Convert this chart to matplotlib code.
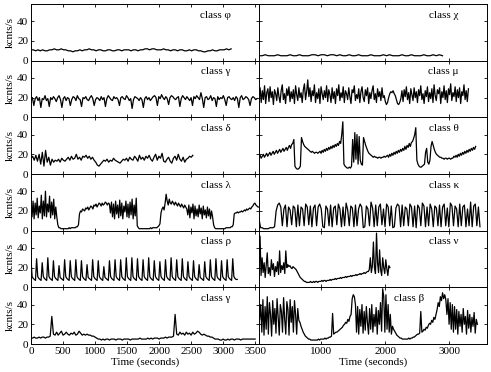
import numpy as np
import matplotlib.pyplot as plt

plt.rcParams['font.family'] = ['Liberation Serif', 'DejaVu Serif']

phi_t = (0, 3125)
phi = [11, 11, 10, 11, 10, 11, 10, 10, 11, 11, 12, 11, 11, 12, 11, 11, 10, 10, 9, 10,
       10, 11, 10, 11, 11, 12, 11, 11, 10, 11, 11, 10, 10, 11, 11, 10, 10, 11, 11, 10,
       11, 11, 11, 10, 11, 11, 10, 11, 11, 12, 12, 11, 12, 12, 11, 11, 11, 12, 11, 11,
       10, 11, 11, 10, 11, 11, 10, 10, 11, 10, 11, 11, 10, 10, 9, 9, 10, 10, 11, 10,
       10, 11, 11, 11, 12, 11, 12]

gamma1_t = (0, 3530)
gamma1 = [18, 20, 12, 19, 21, 17, 20, 10, 19, 18, 22, 17, 19, 11, 20, 18, 21, 19, 16, 20,
          22, 18, 10, 19, 21, 17, 20, 19, 12, 18, 21, 20, 17, 22, 19, 18, 11, 20, 19, 21,
          18, 17, 20, 22, 19, 12, 18, 20, 19, 17, 21, 18, 20, 11, 19, 22, 20, 18, 17, 21,
          19, 20, 18, 12, 20, 21, 19, 18, 22, 20, 17, 19, 9, 18, 21, 20, 19, 17, 20, 18,
          10, 19, 21, 18, 20, 17, 19, 21, 22, 20, 12, 21, 19, 23, 20, 18, 21, 19, 13, 20,
          22, 21, 19, 18, 20, 21, 11, 19, 22, 20, 18, 21, 19, 17, 20, 12, 21, 19, 22, 20,
          18, 25, 19, 10, 20, 21, 18, 19, 22, 17, 20, 19, 11, 21, 18, 20, 19, 22, 18, 12,
          20, 21, 19, 18, 20, 17, 21, 19, 10, 20, 22, 18, 19, 21, 20, 18, 12, 19, 21, 20,
          18, 19]

delta_t = (0, 2527)
delta = [16, 18, 14, 19, 13, 20, 10, 22, 8, 24, 12, 17, 9, 15, 12, 14, 13, 15, 12, 16,
         14, 13, 15, 17, 14, 18, 15, 16, 20, 15, 17, 14, 18, 17, 19, 16, 18, 15, 17, 14,
         12, 9, 8, 10, 12, 14, 13, 15, 12, 14, 13, 16, 14, 13, 12, 11, 13, 15, 14, 16,
         13, 17, 15, 14, 18, 16, 13, 19, 15, 17, 14, 18, 16, 19, 15, 13, 17, 20, 14, 18,
         16, 21, 13, 12, 15, 17, 13, 11, 16, 18, 14, 20, 15, 13, 17, 12, 15, 16, 18, 17, 19]

lam_t = (0, 3560)
lam = [22, 14, 30, 12, 28, 16, 33, 13, 25, 18, 36, 12, 30, 15, 40, 14, 27, 19, 35, 13,
       29, 16, 32, 12, 24, 14,
       6, 3, 3, 2, 2, 2, 2, 2, 2, 2, 2, 3, 2, 3, 3, 3, 3, 3, 4, 4, 6,
       17, 20, 19, 22, 21, 20, 23, 22, 24, 21, 23, 25, 24, 22, 26, 25, 27, 24, 26, 28,
       27, 25, 28, 26, 27, 29, 28, 26, 28, 27,
       18, 29, 14, 27, 12, 30, 17, 26, 13, 31, 15, 28, 12, 25, 19, 30, 14, 27, 13, 29,
       16, 32, 12, 26, 15, 33,
       5, 3, 2, 2, 2, 2, 2, 2, 2, 2, 2, 2, 2, 3, 2, 3, 3, 3, 3, 3, 4, 5, 7,
       18, 22, 24, 21, 28, 37, 30, 26, 32, 28, 27, 30, 28, 26, 29, 27, 25, 28, 26, 24,
       27, 25, 23, 26, 24, 22,
       16, 26, 13, 24, 18, 27, 12, 25, 15, 22, 14, 26, 17, 23, 12, 25, 16, 21, 13, 24,
       15, 22, 12, 20, 14,
       6, 3, 2, 2, 2, 2, 2, 2, 2, 2, 2, 2, 3, 3, 3, 3, 3, 4, 4, 6,
       17, 18, 18, 19, 18, 19, 19, 20, 19, 20, 21, 20, 22, 21, 22, 23, 22, 24, 25, 27,
       28, 26, 25, 24, 24]

rho_t = (0, 3220)
rho = [28, 11, 9, 8, 7, 29, 11, 9, 8, 7, 25, 11, 9, 8, 7, 30, 11, 9, 8, 7,
       27, 11, 9, 8, 7, 22, 10, 9, 8, 7, 28, 11, 9, 8, 7, 27, 11, 9, 8, 7,
       28, 11, 9, 8, 7, 27, 11, 9, 8, 7, 23, 10, 9, 8, 7, 28, 11, 9, 8, 7,
       27, 11, 9, 8, 7, 21, 10, 9, 8, 7, 27, 11, 9, 8, 7, 28, 11, 9, 8, 7,
       28, 11, 9, 8, 7, 30, 11, 9, 8, 7, 30, 11, 9, 8, 7, 29, 11, 9, 8, 7,
       28, 11, 9, 8, 7, 30, 11, 9, 8, 7, 27, 11, 9, 8, 7, 26, 11, 9, 8, 7,
       28, 11, 9, 8, 7, 30, 11, 9, 8, 7, 28, 11, 9, 8, 7, 29, 11, 9, 8, 7,
       26, 11, 9, 8, 7, 27, 11, 9, 8, 7, 23, 10, 9, 8, 7, 26, 11, 9, 8, 7,
       28, 11, 9, 8, 7, 29, 11, 9, 8, 7, 27, 11, 9, 8, 7, 28, 11, 9, 8, 7,
       29, 11, 9, 8, 8]

gamma2_t = (0, 3500)
gamma2 = [6, 6, 7, 6, 6, 7, 6, 7, 7, 6, 7, 7, 8,
          28,
          10, 9, 12, 9, 11, 13, 9, 10, 12, 10, 9, 11, 10, 12, 9, 10, 13, 11, 9, 10, 9, 10, 9,
          9, 8, 8, 7, 6,
          5, 5, 4, 5, 4, 5, 5, 4, 5, 5, 5, 4, 5, 5, 5, 4, 5, 5, 5, 5, 4, 5, 5, 5,
          5, 5, 6, 5, 5, 5, 5, 6, 5, 6, 5, 6, 6, 6, 5, 6, 6, 6, 7, 6, 7, 7, 7, 8,
          30,
          10, 9, 12, 10, 11, 9, 12, 10, 11, 9, 12, 10, 11, 13, 12, 10, 9, 10,
          9, 8, 8, 7, 7, 6, 5, 5,
          5, 4, 4, 5, 4, 4, 5, 4, 5, 5, 4, 5, 5, 5, 4, 5, 5, 5, 5, 5, 5, 5, 5, 5]

chi_t = (30, 2895)
chi = [5, 5, 6, 5, 5, 5, 6, 5, 5, 5, 6, 5, 5, 6, 5, 5, 5, 6, 6, 5,
       6, 6, 5, 6, 6, 5, 6, 5, 5, 6, 5, 5, 6, 5, 5, 5, 6, 5, 5, 5,
       6, 5, 6, 5, 5, 5, 6, 5, 5, 6, 5, 5, 5, 6, 5, 5, 6, 5, 6, 5]

mu_t = (30, 3300)
mu = [22, 30, 15, 27, 18, 32, 14, 25, 29, 16, 31, 20, 26, 13, 28, 24, 17, 30, 21, 15,
      27, 33, 18, 24, 14, 29, 22, 31, 16, 26, 19, 28, 14, 32, 23, 17, 30, 20, 25, 15,
      28, 34, 18, 26, 38, 21, 30, 16, 27, 22, 33, 15, 25, 19, 29, 14, 31, 24, 18, 27,
      20, 32, 16, 28, 23, 15, 30, 19, 26, 14, 29, 22, 33, 17, 25, 20, 31, 15, 27, 24,
      18, 30, 21, 14, 28, 25, 32, 17, 23, 19, 29, 15, 26, 31, 20, 16, 28, 22, 30, 14,
      25, 19, 27, 32, 18, 24, 15, 29, 21, 26, 17, 30, 20, 22, 16, 13, 15, 20, 24, 26,
      25, 27, 24, 22, 18, 14, 13, 15, 19, 27, 16, 28, 21, 31, 18, 25, 14, 29, 23, 17,
      30, 20, 26, 15, 28, 22, 32, 18, 24, 14, 27, 21, 31, 16, 25, 19, 29, 15, 33, 22,
      17, 28, 24, 30, 14, 26, 20, 32, 18, 27, 15, 29, 23, 34, 17, 25, 21, 31, 16, 28,
      20, 30, 14, 26, 22, 33, 18, 27, 16, 29]

theta_t = (30, 3413)
theta = [17, 19, 16, 18, 20, 17, 19, 21, 18, 20, 22, 19, 21, 23, 20, 22, 24, 21, 23, 25,
         22, 24, 26, 23, 25, 27, 24, 27, 29, 26, 30, 31,
         35, 8, 6, 5, 5, 6, 8, 37, 33, 30, 28, 27, 26, 25,
         24, 23, 22, 23, 22, 21, 22, 22, 21,
         22, 23, 21, 24, 22, 25, 23, 26, 24, 27, 25, 28, 26, 29, 27, 30, 28, 31, 29, 33, 31,
         40, 53, 10, 8, 7, 6, 6, 7, 6, 8,
         35, 12, 42, 15, 40, 10, 38, 14, 10, 9, 37,
         33, 29, 26, 23, 21, 20, 19,
         18, 17, 18, 17, 17, 16, 17, 17, 16, 17, 17, 18, 17,
         18, 19, 17, 20, 18, 21, 19, 22, 20, 23, 21, 24, 22, 25, 23, 26, 24, 28, 25, 29,
         27, 31, 28, 32, 33,
         36, 40, 47, 14, 10, 8, 7, 7, 8, 9,
         10, 22, 26, 12, 10, 14, 28, 33,
         29, 25, 22, 20, 19, 18, 17,
         17, 16, 16, 15, 16, 16, 15, 16, 16, 15, 16,
         16, 18, 17, 19, 17, 20, 18, 21, 19, 22, 20, 23, 21, 24, 22, 25, 23, 26, 24, 27,
         25, 28]

kappa_t = (30, 3480)
kappa = [12, 3, 3, 2, 2, 2, 2, 3, 3, 3, 4,
         20, 26, 28, 24, 5,
         22, 26, 4, 24, 21, 6, 25, 23, 4, 26, 5, 24, 22, 5, 27, 24, 6, 25, 4, 23, 26, 5,
         24, 27, 22, 4, 3, 25, 22, 5, 26, 4, 23, 25, 6, 27, 22, 4, 24, 5, 28, 21, 5,
         25, 23, 4, 26, 5,
         22, 27, 24, 3, 4, 25, 22, 5, 29, 23, 4, 26, 5, 24, 27, 6, 22, 4, 27, 24, 5,
         25, 3, 4,
         23, 27, 25, 4, 26, 5, 24, 22, 5, 27, 24, 4, 25, 3, 26, 23, 5, 28, 25, 4, 24, 5,
         27, 22, 4,
         25, 23, 5, 26, 4, 24, 27, 5, 23, 4, 28, 25, 5, 25, 22, 4, 27, 5, 24, 26, 4,
         22, 5, 29, 4, 25, 27, 5, 24, 4]

nu_t = (30, 2074)
nu = [20, 52, 12, 30, 15, 25, 10, 22, 35, 14, 20, 12, 28, 18, 24, 11, 21, 16, 26, 13,
      37, 15, 22, 18, 25, 14, 37, 20, 23, 21, 22, 20, 19, 21, 20,
      19, 18, 16, 14, 12, 10, 9, 8, 7, 6,
      6, 5, 5, 5, 5, 6, 5, 5, 6, 5, 6, 6, 5, 6, 6, 6, 7, 6, 7, 7, 6, 7, 7,
      7, 8, 7, 8, 8, 8, 9, 8, 9, 9, 9, 10, 9, 10, 10, 10, 11, 10, 11, 11, 11, 12, 11,
      12, 12, 12, 13, 12, 13, 13, 14, 13, 14, 14, 15, 14, 15, 16, 16,
      18, 30, 15, 22, 46, 20, 14, 55, 25, 15, 38, 18, 12, 30, 20, 14, 28, 19, 12, 22, 20]

beta_t = (40, 3440)
beta = [25, 40, 12, 45, 9, 38, 15, 48, 10, 42, 30, 8, 44, 20, 36, 11, 46, 28, 9, 40,
        33, 12, 47, 25, 10, 43, 35, 9, 45, 22, 38, 12, 44, 30, 10, 36, 24,
        22, 18, 15, 12, 10, 8, 7, 6, 5, 5, 4,
        4, 4, 4, 4, 4, 4, 5, 4, 5, 5, 5, 5, 6, 5, 6, 6, 7, 7,
        8, 31, 10,
        11, 12, 12, 13, 14, 15, 16, 17, 19, 20, 22, 21, 25, 23, 28, 30,
        46, 50, 48, 40,
        12, 38, 10, 35, 18, 40, 11, 33, 14, 38, 22, 10, 36, 15, 40, 12, 30, 18, 37, 10,
        34, 20, 42, 13,
        56, 48, 12, 50, 15, 40, 12, 30, 10,
        18, 15, 13, 11, 9, 8, 7, 6, 6, 5, 5, 5,
        5, 5, 5, 6, 5, 6, 6, 7, 7, 8,
        9, 10, 10, 11, 33, 12,
        13, 15, 14, 17, 16, 19, 21, 20, 24, 22, 27, 25, 30,
        35, 42, 38, 48, 44, 52, 46, 50,
        45, 30, 46, 20, 42, 15,
        40, 12, 38, 15, 35, 10, 33, 18, 30, 12, 36, 20, 28, 10, 34, 16, 30, 12, 27, 18,
        32, 11, 25, 20]

left_panels = [('class φ', phi_t, phi), ('class γ', gamma1_t, gamma1),
               ('class δ', delta_t, delta), ('class λ', lam_t, lam),
               ('class ρ', rho_t, rho), ('class γ', gamma2_t, gamma2)]
right_panels = [('class χ', chi_t, chi), ('class μ', mu_t, mu),
                ('class θ', theta_t, theta), ('class κ', kappa_t, kappa),
                ('class ν', nu_t, nu), ('class β', beta_t, beta)]

fig = plt.figure(figsize=(4.91, 3.72), dpi=100)

x0, xm, x1 = 31 / 491, 259 / 491, 487 / 491
y0, y1 = 28 / 372, 368 / 372
h = (y1 - y0) / 6

for col, panels in enumerate([left_panels, right_panels]):
    for r, (name, (ta, tb), vals) in enumerate(panels):
        left = x0 if col == 0 else xm
        width = (xm - x0) if col == 0 else (x1 - xm)
        ax = fig.add_axes([left, y0 + (5 - r) * h, width, h])
        t = np.linspace(ta, tb, len(vals))
        ax.plot(t, vals, color='black', lw=0.9)
        if col == 0:
            ax.set_xlim(0, 3560)
            ax.set_xticks(np.arange(0, 3501, 500))
            ax.set_ylabel('kcnts/s', fontsize=8, labelpad=2)
        else:
            ax.set_xlim(30, 3590)
            ax.set_xticks([1000, 2000, 3000])
        ax.set_ylim(0, 57.5)
        ax.set_yticks([0, 20, 40])
        if col == 1:
            ax.set_yticklabels([])
        ax.tick_params(direction='in', top=True, right=True, length=2.5,
                       width=0.6, labelsize=8, pad=2)
        for s in ax.spines.values():
            s.set_linewidth(0.7)
        if r < 5:
            ax.set_xticklabels([])
        else:
            ax.set_xlabel('Time (seconds)', fontsize=8, labelpad=1)
        tx = 0.66 if name == 'class β' else 0.81
        ax.text(tx, 0.80, name, transform=ax.transAxes, fontsize=8,
                ha='center', va='center')

fig.savefig('out.png', dpi=100)
